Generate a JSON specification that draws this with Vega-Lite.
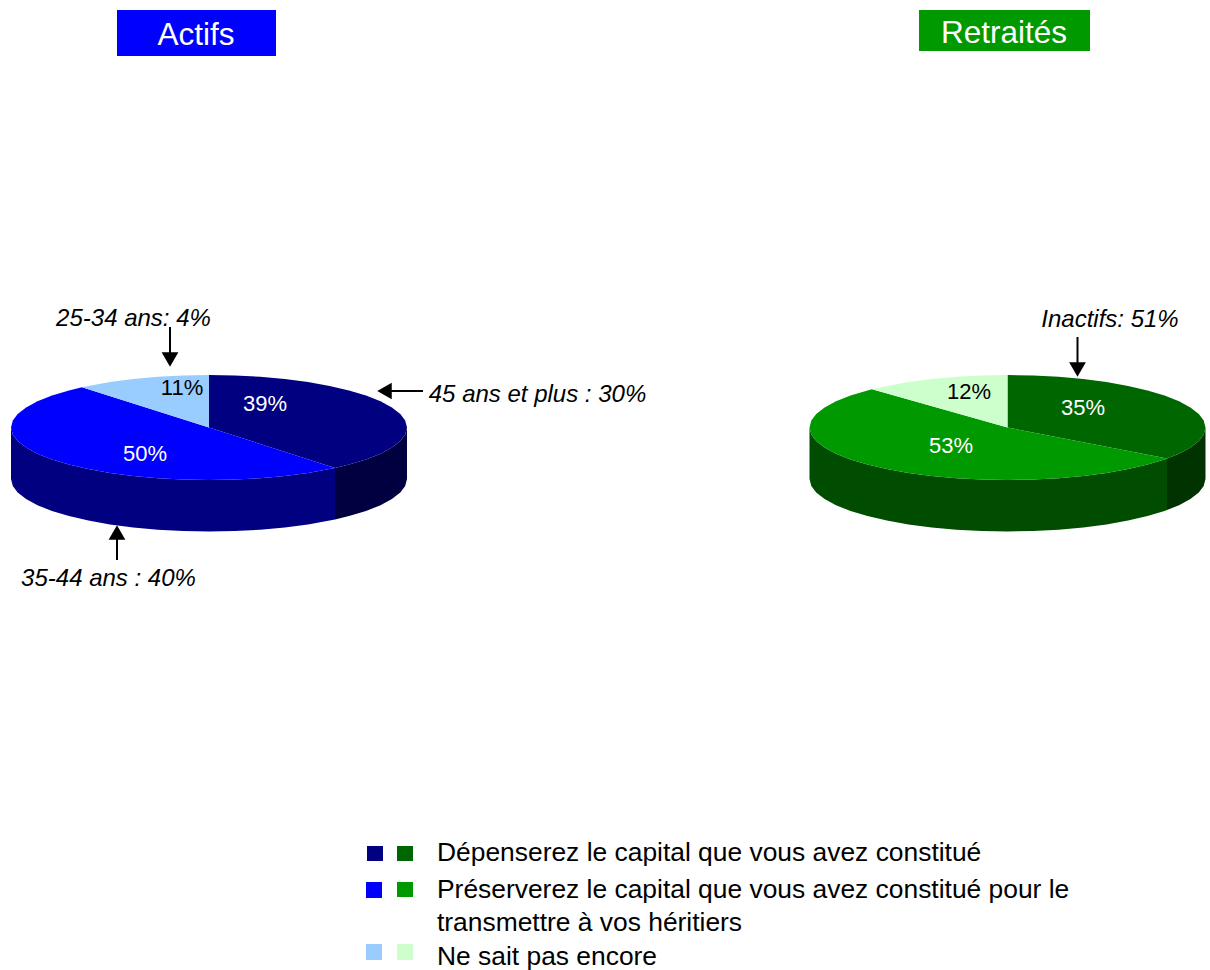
{"$schema":"https://vega.github.io/schema/vega-lite/v6.json","width":1210,"height":970,"padding":0,"autosize":{"type":"none"},"background":"white","config":{"view":{"stroke":null}},
"datasets":{
"walls":[
{"segment":"A-paroi-pre","x":11,"y":427.5,"y2":479},{"segment":"A-paroi-pre","x":12.8,"y":434.4,"y2":485.9},{"segment":"A-paroi-pre","x":17.7,"y":441.1,"y2":492.6},{"segment":"A-paroi-pre","x":26.1,"y":447.6,"y2":499.1},{"segment":"A-paroi-pre","x":37.5,"y":453.7,"y2":505.2},{"segment":"A-paroi-pre","x":52,"y":459.5,"y2":511},{"segment":"A-paroi-pre","x":69,"y":464.6,"y2":516.1},{"segment":"A-paroi-pre","x":88.4,"y":469.1,"y2":520.6},{"segment":"A-paroi-pre","x":110,"y":473,"y2":524.5},{"segment":"A-paroi-pre","x":133.2,"y":476,"y2":527.5},{"segment":"A-paroi-pre","x":157.8,"y":478.2,"y2":529.7},{"segment":"A-paroi-pre","x":183.2,"y":479.5,"y2":531},{"segment":"A-paroi-pre","x":209,"y":480,"y2":531.5},{"segment":"A-paroi-pre","x":234.8,"y":479.5,"y2":531},{"segment":"A-paroi-pre","x":260.2,"y":478.2,"y2":529.7},{"segment":"A-paroi-pre","x":284.8,"y":476,"y2":527.5},{"segment":"A-paroi-pre","x":308,"y":473,"y2":524.5},{"segment":"A-paroi-pre","x":329.6,"y":469.1,"y2":520.6},{"segment":"A-paroi-pre","x":335,"y":468,"y2":519.5},
{"segment":"A-paroi-dep","x":335,"y":468,"y2":519.5},{"segment":"A-paroi-dep","x":349,"y":464.6,"y2":516.1},{"segment":"A-paroi-dep","x":366,"y":459.5,"y2":511},{"segment":"A-paroi-dep","x":380.5,"y":453.7,"y2":505.2},{"segment":"A-paroi-dep","x":391.9,"y":447.6,"y2":499.1},{"segment":"A-paroi-dep","x":400.3,"y":441.1,"y2":492.6},{"segment":"A-paroi-dep","x":405.2,"y":434.4,"y2":485.9},{"segment":"A-paroi-dep","x":407,"y":427.5,"y2":479},
{"segment":"R-paroi-pre","x":809.5,"y":427.5,"y2":479},{"segment":"R-paroi-pre","x":811.3,"y":434.4,"y2":485.9},{"segment":"R-paroi-pre","x":816.2,"y":441.1,"y2":492.6},{"segment":"R-paroi-pre","x":824.6,"y":447.6,"y2":499.1},{"segment":"R-paroi-pre","x":836,"y":453.7,"y2":505.2},{"segment":"R-paroi-pre","x":850.5,"y":459.5,"y2":511},{"segment":"R-paroi-pre","x":867.5,"y":464.6,"y2":516.1},{"segment":"R-paroi-pre","x":886.9,"y":469.1,"y2":520.6},{"segment":"R-paroi-pre","x":908.5,"y":473,"y2":524.5},{"segment":"R-paroi-pre","x":931.7,"y":476,"y2":527.5},{"segment":"R-paroi-pre","x":956.3,"y":478.2,"y2":529.7},{"segment":"R-paroi-pre","x":981.7,"y":479.5,"y2":531},{"segment":"R-paroi-pre","x":1007.5,"y":480,"y2":531.5},{"segment":"R-paroi-pre","x":1033.3,"y":479.5,"y2":531},{"segment":"R-paroi-pre","x":1058.7,"y":478.2,"y2":529.7},{"segment":"R-paroi-pre","x":1083.3,"y":476,"y2":527.5},{"segment":"R-paroi-pre","x":1106.5,"y":473,"y2":524.5},{"segment":"R-paroi-pre","x":1128.1,"y":469.1,"y2":520.6},{"segment":"R-paroi-pre","x":1147.5,"y":464.6,"y2":516.1},{"segment":"R-paroi-pre","x":1164.5,"y":459.5,"y2":511},{"segment":"R-paroi-pre","x":1167,"y":458.5,"y2":510},
{"segment":"R-paroi-dep","x":1167,"y":458.5,"y2":510},{"segment":"R-paroi-dep","x":1179,"y":453.7,"y2":505.2},{"segment":"R-paroi-dep","x":1190.4,"y":447.6,"y2":499.1},{"segment":"R-paroi-dep","x":1198.8,"y":441.1,"y2":492.6},{"segment":"R-paroi-dep","x":1203.7,"y":434.4,"y2":485.9},{"segment":"R-paroi-dep","x":1205.5,"y":427.5,"y2":479}
],
"slices":[
{"segment":"A-dep","i":0,"x":209,"y":427.5},{"segment":"A-dep","i":1,"x":209,"y":375},{"segment":"A-dep","i":2,"x":234.8,"y":375.5},{"segment":"A-dep","i":3,"x":260.2,"y":376.8},{"segment":"A-dep","i":4,"x":284.8,"y":379},{"segment":"A-dep","i":5,"x":308,"y":382},{"segment":"A-dep","i":6,"x":329.6,"y":385.9},{"segment":"A-dep","i":7,"x":349,"y":390.4},{"segment":"A-dep","i":8,"x":366,"y":395.5},{"segment":"A-dep","i":9,"x":380.5,"y":401.3},{"segment":"A-dep","i":10,"x":391.9,"y":407.4},{"segment":"A-dep","i":11,"x":400.3,"y":413.9},{"segment":"A-dep","i":12,"x":405.2,"y":420.6},{"segment":"A-dep","i":13,"x":407,"y":427.5},{"segment":"A-dep","i":14,"x":405.2,"y":434.4},{"segment":"A-dep","i":15,"x":400.3,"y":441.1},{"segment":"A-dep","i":16,"x":391.9,"y":447.6},{"segment":"A-dep","i":17,"x":380.5,"y":453.7},{"segment":"A-dep","i":18,"x":366,"y":459.5},{"segment":"A-dep","i":19,"x":349,"y":464.6},{"segment":"A-dep","i":20,"x":335,"y":468},
{"segment":"A-pre","i":0,"x":209,"y":427.5},{"segment":"A-pre","i":1,"x":335,"y":468},{"segment":"A-pre","i":2,"x":329.6,"y":469.1},{"segment":"A-pre","i":3,"x":308,"y":473},{"segment":"A-pre","i":4,"x":284.8,"y":476},{"segment":"A-pre","i":5,"x":260.2,"y":478.2},{"segment":"A-pre","i":6,"x":234.8,"y":479.5},{"segment":"A-pre","i":7,"x":209,"y":480},{"segment":"A-pre","i":8,"x":183.2,"y":479.5},{"segment":"A-pre","i":9,"x":157.8,"y":478.2},{"segment":"A-pre","i":10,"x":133.2,"y":476},{"segment":"A-pre","i":11,"x":110,"y":473},{"segment":"A-pre","i":12,"x":88.4,"y":469.1},{"segment":"A-pre","i":13,"x":69,"y":464.6},{"segment":"A-pre","i":14,"x":52,"y":459.5},{"segment":"A-pre","i":15,"x":37.5,"y":453.7},{"segment":"A-pre","i":16,"x":26.1,"y":447.6},{"segment":"A-pre","i":17,"x":17.7,"y":441.1},{"segment":"A-pre","i":18,"x":12.8,"y":434.4},{"segment":"A-pre","i":19,"x":11,"y":427.5},{"segment":"A-pre","i":20,"x":12.8,"y":420.6},{"segment":"A-pre","i":21,"x":17.7,"y":413.9},{"segment":"A-pre","i":22,"x":26.1,"y":407.4},{"segment":"A-pre","i":23,"x":37.5,"y":401.3},{"segment":"A-pre","i":24,"x":52,"y":395.5},{"segment":"A-pre","i":25,"x":69,"y":390.4},{"segment":"A-pre","i":26,"x":82,"y":387.2},
{"segment":"A-nsp","i":0,"x":209,"y":427.5},{"segment":"A-nsp","i":1,"x":82,"y":387.2},{"segment":"A-nsp","i":2,"x":88.4,"y":385.9},{"segment":"A-nsp","i":3,"x":110,"y":382},{"segment":"A-nsp","i":4,"x":133.2,"y":379},{"segment":"A-nsp","i":5,"x":157.8,"y":376.8},{"segment":"A-nsp","i":6,"x":183.2,"y":375.5},{"segment":"A-nsp","i":7,"x":209,"y":375},
{"segment":"R-dep","i":0,"x":1007.5,"y":427.5},{"segment":"R-dep","i":1,"x":1007.5,"y":375},{"segment":"R-dep","i":2,"x":1033.3,"y":375.5},{"segment":"R-dep","i":3,"x":1058.7,"y":376.8},{"segment":"R-dep","i":4,"x":1083.3,"y":379},{"segment":"R-dep","i":5,"x":1106.5,"y":382},{"segment":"R-dep","i":6,"x":1128.1,"y":385.9},{"segment":"R-dep","i":7,"x":1147.5,"y":390.4},{"segment":"R-dep","i":8,"x":1164.5,"y":395.5},{"segment":"R-dep","i":9,"x":1179,"y":401.3},{"segment":"R-dep","i":10,"x":1190.4,"y":407.4},{"segment":"R-dep","i":11,"x":1198.8,"y":413.9},{"segment":"R-dep","i":12,"x":1203.7,"y":420.6},{"segment":"R-dep","i":13,"x":1205.5,"y":427.5},{"segment":"R-dep","i":14,"x":1203.7,"y":434.4},{"segment":"R-dep","i":15,"x":1198.8,"y":441.1},{"segment":"R-dep","i":16,"x":1190.4,"y":447.6},{"segment":"R-dep","i":17,"x":1179,"y":453.7},{"segment":"R-dep","i":18,"x":1167,"y":458.5},
{"segment":"R-pre","i":0,"x":1007.5,"y":427.5},{"segment":"R-pre","i":1,"x":1167,"y":458.5},{"segment":"R-pre","i":2,"x":1164.5,"y":459.5},{"segment":"R-pre","i":3,"x":1147.5,"y":464.6},{"segment":"R-pre","i":4,"x":1128.1,"y":469.1},{"segment":"R-pre","i":5,"x":1106.5,"y":473},{"segment":"R-pre","i":6,"x":1083.3,"y":476},{"segment":"R-pre","i":7,"x":1058.7,"y":478.2},{"segment":"R-pre","i":8,"x":1033.3,"y":479.5},{"segment":"R-pre","i":9,"x":1007.5,"y":480},{"segment":"R-pre","i":10,"x":981.7,"y":479.5},{"segment":"R-pre","i":11,"x":956.3,"y":478.2},{"segment":"R-pre","i":12,"x":931.7,"y":476},{"segment":"R-pre","i":13,"x":908.5,"y":473},{"segment":"R-pre","i":14,"x":886.9,"y":469.1},{"segment":"R-pre","i":15,"x":867.5,"y":464.6},{"segment":"R-pre","i":16,"x":850.5,"y":459.5},{"segment":"R-pre","i":17,"x":836,"y":453.7},{"segment":"R-pre","i":18,"x":824.6,"y":447.6},{"segment":"R-pre","i":19,"x":816.2,"y":441.1},{"segment":"R-pre","i":20,"x":811.3,"y":434.4},{"segment":"R-pre","i":21,"x":809.5,"y":427.5},{"segment":"R-pre","i":22,"x":811.3,"y":420.6},{"segment":"R-pre","i":23,"x":816.2,"y":413.9},{"segment":"R-pre","i":24,"x":824.6,"y":407.4},{"segment":"R-pre","i":25,"x":836,"y":401.3},{"segment":"R-pre","i":26,"x":850.5,"y":395.5},{"segment":"R-pre","i":27,"x":867.5,"y":390.4},{"segment":"R-pre","i":28,"x":872,"y":389.2},
{"segment":"R-nsp","i":0,"x":1007.5,"y":427.5},{"segment":"R-nsp","i":1,"x":872,"y":389.2},{"segment":"R-nsp","i":2,"x":886.9,"y":385.9},{"segment":"R-nsp","i":3,"x":908.5,"y":382},{"segment":"R-nsp","i":4,"x":931.7,"y":379},{"segment":"R-nsp","i":5,"x":956.3,"y":376.8},{"segment":"R-nsp","i":6,"x":981.7,"y":375.5},{"segment":"R-nsp","i":7,"x":1007.5,"y":375}
],
"boxes":[
{"segment":"A-pre","x":117,"x2":276,"y":10,"y2":56},
{"segment":"R-pre","x":919,"x2":1090,"y":10,"y2":51},
{"segment":"A-dep","x":367,"x2":383,"y":846,"y2":861},
{"segment":"R-dep","x":397,"x2":413,"y":846,"y2":861},
{"segment":"A-pre","x":366,"x2":382,"y":882,"y2":898},
{"segment":"R-pre","x":397,"x2":413,"y":882,"y2":897},
{"segment":"A-nsp","x":366,"x2":382,"y":944,"y2":960},
{"segment":"R-nsp","x":397,"x2":413,"y":944,"y2":960}
],
"stems":[
{"x":170,"x2":170,"y":327,"y2":353},
{"x":423,"x2":390,"y":391,"y2":391},
{"x":117,"x2":117,"y":560,"y2":538},
{"x":1077.5,"x2":1077.5,"y":337,"y2":363}
],
"heads":[
{"sens":"bas","x":170,"y":359.5},
{"sens":"gauche","x":384.5,"y":391},
{"sens":"haut","x":117,"y":532.5},
{"sens":"bas","x":1077.5,"y":369.5}
],
"texts":[
{"role":"titre","texte":"Actifs","x":196,"y":36},
{"role":"titre","texte":"Retraités","x":1004,"y":34},
{"role":"pct-clair","texte":"39%","x":265,"y":404},
{"role":"pct-clair","texte":"50%","x":145,"y":454},
{"role":"pct-fonce","texte":"11%","x":182,"y":388},
{"role":"pct-clair","texte":"35%","x":1083,"y":408},
{"role":"pct-clair","texte":"53%","x":951,"y":446},
{"role":"pct-fonce","texte":"12%","x":969,"y":392},
{"role":"note","texte":"25-34 ans: 4%","x":133.5,"y":318.5},
{"role":"note","texte":"45 ans et plus : 30%","x":537.5,"y":394.5},
{"role":"note","texte":"35-44 ans : 40%","x":108.5,"y":578.5},
{"role":"note","texte":"Inactifs: 51%","x":1110,"y":319.5},
{"role":"legende","texte":"Dépenserez le capital que vous avez constitué","x":437,"y":853},
{"role":"legende","texte":"Préserverez le capital que vous avez constitué pour le","x":437,"y":890},
{"role":"legende","texte":"transmettre à vos héritiers","x":437,"y":923},
{"role":"legende","texte":"Ne sait pas encore","x":437,"y":957}
]},
"encoding":{
"x":{"field":"x","type":"quantitative","axis":null,"scale":{"domain":[0,1210],"nice":false,"zero":false}},
"y":{"field":"y","type":"quantitative","axis":null,"stack":null,"scale":{"domain":[970,0],"nice":false,"zero":false}},
"color":{"field":"segment","type":"nominal","legend":null,"scale":{"domain":["A-dep","A-pre","A-nsp","A-paroi-pre","A-paroi-dep","R-dep","R-pre","R-nsp","R-paroi-pre","R-paroi-dep"],"range":["#000080","#0000FF","#99CCFF","#000080","#000040","#006600","#009900","#CCFFCC","#004C00","#003300"]}}
},
"layer":[
{"data":{"name":"walls"},"mark":{"type":"area","opacity":1,"interpolate":"linear"},"encoding":{"y2":{"field":"y2"}}},
{"data":{"name":"slices"},"mark":{"type":"line","filled":true,"strokeWidth":0,"opacity":1},"encoding":{"order":{"field":"i","type":"quantitative"}}},
{"data":{"name":"boxes"},"mark":{"type":"rect","opacity":1},"encoding":{"x2":{"field":"x2"},"y2":{"field":"y2"}}},
{"data":{"name":"stems"},"mark":{"type":"rule","strokeWidth":2},"encoding":{"x2":{"field":"x2"},"y2":{"field":"y2"},"color":{"value":"#000000"}}},
{"data":{"name":"heads"},"mark":{"type":"point","filled":true,"opacity":1,"size":280,"strokeWidth":0},"encoding":{"color":{"value":"#000000"},"shape":{"field":"sens","type":"nominal","legend":null,"scale":{"domain":["bas","haut","gauche"],"range":["triangle-down","triangle-up","triangle-left"]}}}},
{"data":{"name":"texts"},"transform":[{"filter":"datum.role == 'titre'"}],"mark":{"type":"text","font":"Liberation Sans","fontSize":31.5,"align":"center","baseline":"middle"},"encoding":{"text":{"field":"texte"},"color":{"value":"#FFFFFF"}}},
{"data":{"name":"texts"},"transform":[{"filter":"datum.role == 'pct-clair'"}],"mark":{"type":"text","font":"Liberation Sans","fontSize":22,"align":"center","baseline":"middle"},"encoding":{"text":{"field":"texte"},"color":{"value":"#FFFFFF"}}},
{"data":{"name":"texts"},"transform":[{"filter":"datum.role == 'pct-fonce'"}],"mark":{"type":"text","font":"Liberation Sans","fontSize":22,"align":"center","baseline":"middle"},"encoding":{"text":{"field":"texte"},"color":{"value":"#000000"}}},
{"data":{"name":"texts"},"transform":[{"filter":"datum.role == 'note'"}],"mark":{"type":"text","font":"Liberation Sans","fontSize":24,"fontStyle":"italic","align":"center","baseline":"middle"},"encoding":{"text":{"field":"texte"},"color":{"value":"#000000"}}},
{"data":{"name":"texts"},"transform":[{"filter":"datum.role == 'legende'"}],"mark":{"type":"text","font":"Liberation Sans","fontSize":26.4,"align":"left","baseline":"middle"},"encoding":{"text":{"field":"texte"},"color":{"value":"#000000"}}}
]}
